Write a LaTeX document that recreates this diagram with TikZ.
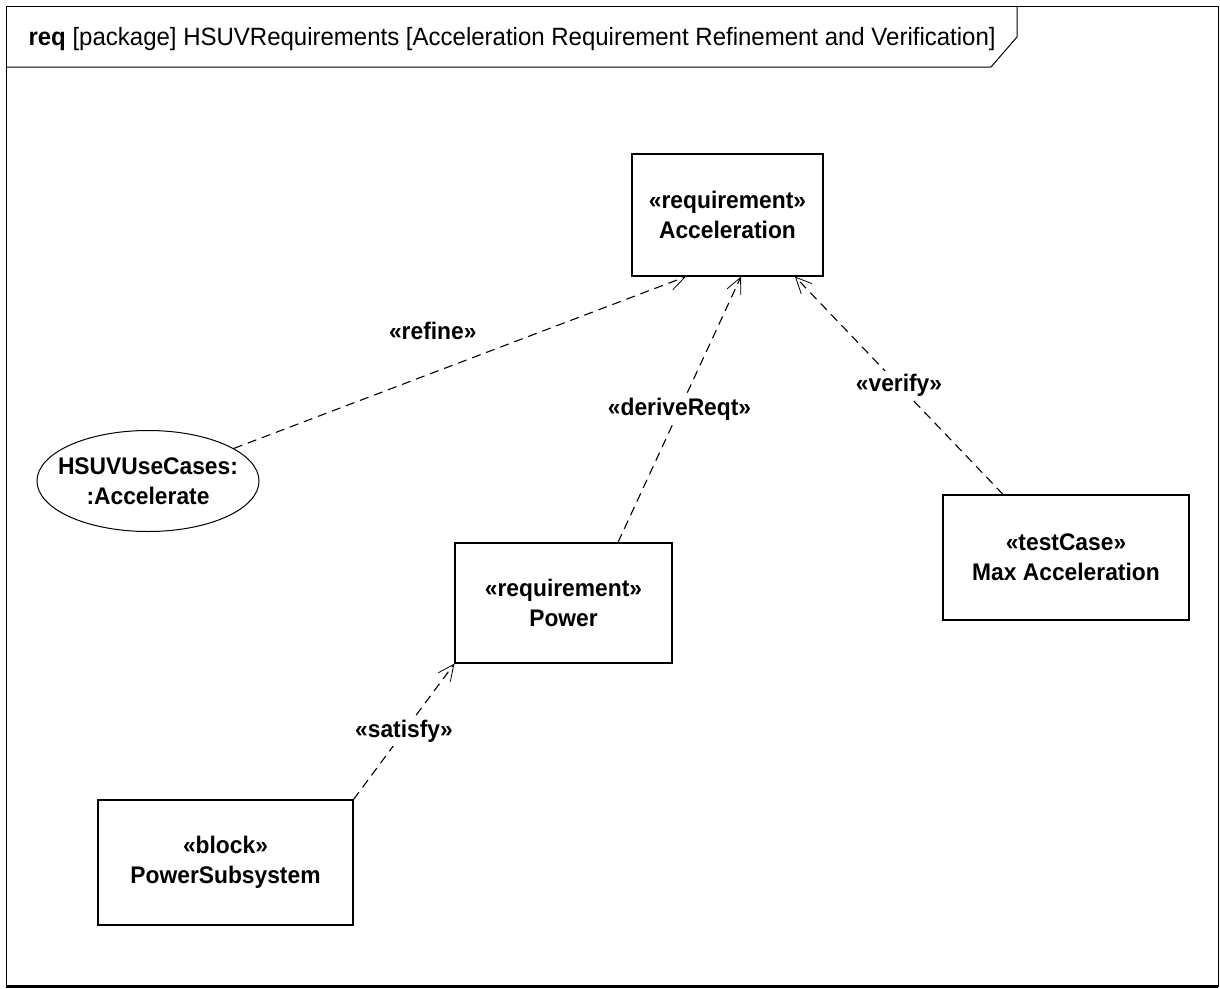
\documentclass[tikz,border=0pt]{standalone}
\usepackage{fontspec}
\setmainfont{Liberation Sans}
\newfontfamily\boxfont[FakeStretch=0.95]{Liberation Sans}
\newfontfamily\titlefont[FakeStretch=0.96]{Liberation Sans}
\usetikzlibrary{arrows.meta,shapes.geometric}
\begin{document}
\begin{tikzpicture}[x=1pt,y=-1pt,
	block/.style={draw,line width=1.2pt,align=center,font=\boxfont\bfseries\fontsize{24}{30}\selectfont,inner sep=0pt},
	usecase/.style={draw,ellipse,line width=1pt,align=center,font=\boxfont\bfseries\fontsize{24}{30}\selectfont,minimum width=222pt,minimum height=101pt,inner xsep=-17pt,inner ysep=0pt},
	dep/.style={line width=1.1pt,dash pattern=on 9pt off 6pt,-{Straight Barb[length=16pt,width=15pt,line width=0.8pt]}},
	deplabel/.style={fill=white,font=\boxfont\bfseries\fontsize{24}{26}\selectfont,inner sep=3pt}]
		\useasboundingbox (0,0) rectangle (1220,988);
		\draw[line width=1pt] (6,6) rectangle (1218,986);
		\draw[line width=3pt] (6,986) -- (1218,986);
		\draw[line width=1pt] (6,67) -- (991,67) -- (1017,37) -- (1017,6);
		\node[anchor=base west,font=\titlefont\fontsize{25}{28}\selectfont] (title) at (25,45) {\textbf{req} [package] HSUVRequirements [Acceleration Requirement Refinement and Verification]};
		
		\node[block,minimum width=191pt,minimum height=122pt] (acc) at (727.5,215) {«requirement»\\Acceleration};
		\node[usecase] (uc) at (148,481) {HSUVUseCases:\\:Accelerate};
		\node[block,minimum width=217pt,minimum height=120pt] (power) at (563.5,603) {«requirement»\\Power};
		\node[block,minimum width=246pt,minimum height=125pt] (test) at (1066,557.5) {«testCase»\\Max Acceleration};
		\node[block,minimum width=255pt,minimum height=125pt] (sub) at (225.5,862.5) {«block»\\PowerSubsystem};
		
		\draw[dep] (uc) -- ([xshift=-41.5pt]acc.south) node[pos=0.44,above=30pt,deplabel] (refine) {«refine»};
		\draw[dep] ([xshift=54.5pt]power.north) -- ([xshift=13.5pt]acc.south) node[pos=0.5,deplabel] (derive) {«deriveReqt»};
		\draw[dep] ([xshift=-63pt]test.north) -- ([xshift=67.5pt]acc.south) node[pos=0.5,deplabel] (verify) {«verify»};
		\draw[dep] (sub.north east) -- (power.south west) node[pos=0.5,deplabel] (satisfy) {«satisfy»};
	\end{tikzpicture}
\end{document}
